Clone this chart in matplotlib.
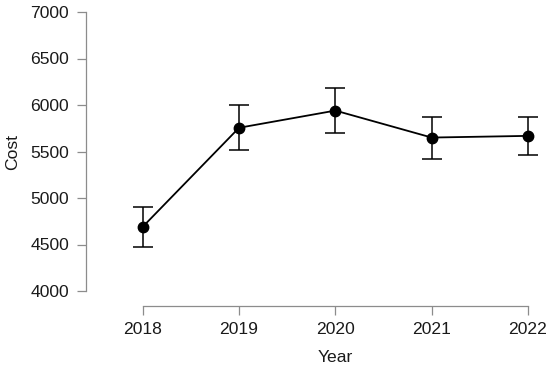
import matplotlib
matplotlib.use("Agg")
import matplotlib.pyplot as plt

plt.rcParams['font.family'] = ['Liberation Sans', 'DejaVu Sans']

years = [2018, 2019, 2020, 2021, 2022]
cost = [4690, 5755, 5940, 5650, 5668]
err_low = [215, 240, 245, 226, 205]
err_high = [215, 240, 245, 224, 205]
y_ticks = [4000, 4500, 5000, 5500, 6000, 6500, 7000]

fig = plt.figure(figsize=(5.5, 3.69), dpi=100)
W, H = 550, 369
left, right, top, bottom = 86, 545, 8, 305.5
ax = fig.add_axes([left / W, 1 - bottom / H, (right - left) / W, (bottom - top) / H])

px_per_year = (528 - 142.7) / 4
ax.set_xlim(2018 - (142.7 - left) / px_per_year, 2022 + (right - 528) / px_per_year)
px_per_unit = (291 - 12) / 3000
ax.set_ylim(4000 - (bottom - 291) / px_per_unit, 7000 + (12 - top) / px_per_unit)

ax.errorbar(years, cost, yerr=[err_low, err_high], color='black', linewidth=1.3,
            elinewidth=1.1, capsize=7, capthick=1.1, marker='o', markersize=7.5,
            markerfacecolor='black', markeredgecolor='black', zorder=3)

for s in ['top', 'right']:
    ax.spines[s].set_visible(False)
for s in ['left', 'bottom']:
    ax.spines[s].set_color('#8c8c8c')
    ax.spines[s].set_linewidth(0.9)
ax.spines['left'].set_bounds(4000, 7000)
ax.spines['bottom'].set_bounds(2018, 2022)

ax.set_xticks(years)
ax.set_xticklabels([str(y) for y in years])
ax.set_yticks(y_ticks)
ax.set_yticklabels([str(y) for y in y_ticks])
ax.tick_params(axis='both', direction='out', length=6.2, width=0.9, color='#8c8c8c',
               labelsize=12.6, labelcolor='#1a1a1a', pad=6)
ax.tick_params(axis='x', pad=5.5)

fig.text(12.5 / W, 1 - 152 / H, 'Cost', rotation=90, ha='center', va='center',
         fontsize=12.6, color='#1a1a1a')
fig.text(335 / W, 1 - 357 / H, 'Year', ha='center', va='center',
         fontsize=12.6, color='#1a1a1a')

fig.savefig('out.png', dpi=100)
